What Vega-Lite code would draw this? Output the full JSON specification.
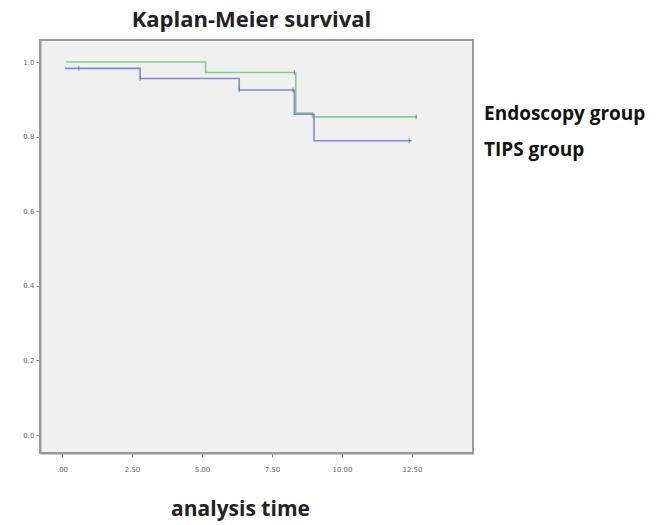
{
  "$schema": "https://vega.github.io/schema/vega-lite/v6.json",
  "width": 433,
  "height": 413,
  "autosize": {"type": "none"},
  "padding": {"left": 40, "top": 40, "right": 192, "bottom": 72},
  "background": "white",
  "title": {
    "text": "Kaplan-Meier survival",
    "font": "Open Sans",
    "fontSize": 22,
    "fontWeight": "bold",
    "color": "#222222",
    "anchor": "middle",
    "dx": -5,
    "offset": 8
  },
  "config": {
    "view": {"fill": "#f0f0f0", "stroke": "#9a9a9a", "strokeWidth": 2},
    "axis": {
      "grid": false,
      "domainColor": "#9a9a9a",
      "domainWidth": 2,
      "tickColor": "#888888",
      "tickSize": 4,
      "labelFont": "DejaVu Sans",
      "labelFontSize": 7,
      "labelColor": "#666666"
    }
  },
  "datasets": {
    "curves": [
      {"group": "Endoscopy group", "time": 0.14, "surv": 1.0},
      {"group": "Endoscopy group", "time": 5.13, "surv": 0.972},
      {"group": "Endoscopy group", "time": 8.35, "surv": 0.863},
      {"group": "Endoscopy group", "time": 8.95, "surv": 0.853},
      {"group": "Endoscopy group", "time": 12.68, "surv": 0.853},
      {"group": "TIPS group", "time": 0.1, "surv": 0.983},
      {"group": "TIPS group", "time": 2.79, "surv": 0.956},
      {"group": "TIPS group", "time": 6.33, "surv": 0.925},
      {"group": "TIPS group", "time": 8.3, "surv": 0.86},
      {"group": "TIPS group", "time": 9.0, "surv": 0.789},
      {"group": "TIPS group", "time": 12.49, "surv": 0.789}
    ],
    "censors": [
      {"group": "Endoscopy group", "time": 8.3, "surv": 0.972},
      {"group": "Endoscopy group", "time": 12.65, "surv": 0.853},
      {"group": "TIPS group", "time": 0.6, "surv": 0.983},
      {"group": "TIPS group", "time": 2.79, "surv": 0.956},
      {"group": "TIPS group", "time": 6.33, "surv": 0.925},
      {"group": "TIPS group", "time": 8.25, "surv": 0.925},
      {"group": "TIPS group", "time": 12.4, "surv": 0.789}
    ]
  },
  "layer": [
    {
      "data": {"name": "curves"},
      "mark": {"type": "line", "interpolate": "step-after", "strokeWidth": 1.6},
      "encoding": {
        "x": {
          "field": "time",
          "type": "quantitative",
          "scale": {"domain": [-0.786, 14.68], "nice": false, "zero": false},
          "axis": {
            "values": [0, 2.5, 5, 7.5, 10, 12.5],
            "labelExpr": "datum.value == 0 ? '.00' : format(datum.value, '.2f')",
            "labelPadding": 8,
            "title": "analysis time",
            "titleFont": "Open Sans",
            "titleFontSize": 21,
            "titleFontWeight": "bold",
            "titleColor": "#222222",
            "titleX": 200,
            "titleY": 62,
            "titleBaseline": "alphabetic"
          }
        },
        "y": {
          "field": "surv",
          "type": "quantitative",
          "scale": {"domain": [-0.048, 1.059], "nice": false, "zero": false},
          "axis": {
            "values": [0, 0.2, 0.4, 0.6, 0.8, 1.0],
            "format": ".1f",
            "labelPadding": 2,
            "title": null
          }
        },
        "color": {
          "field": "group",
          "type": "nominal",
          "scale": {"domain": ["Endoscopy group", "TIPS group"], "range": ["#7fcf8c", "#8787d8"]},
          "legend": {
            "title": null,
            "orient": "none",
            "legendX": 425,
            "legendY": 64,
            "symbolOpacity": 0,
            "symbolSize": 0,
            "labelFont": "Open Sans",
            "labelFontSize": 19,
            "labelFontWeight": "bold",
            "labelColor": "#111111",
            "labelLimit": 400,
            "rowPadding": 16,
            "labelOffset": 0,
            "symbolStrokeWidth": 0
          }
        }
      }
    },
    {
      "data": {"name": "censors"},
      "mark": {"type": "tick", "orient": "vertical", "size": 5, "thickness": 1.2, "color": "#6a6aa8"},
      "encoding": {
        "x": {"field": "time", "type": "quantitative"},
        "y": {"field": "surv", "type": "quantitative"}
      }
    }
  ]
}
